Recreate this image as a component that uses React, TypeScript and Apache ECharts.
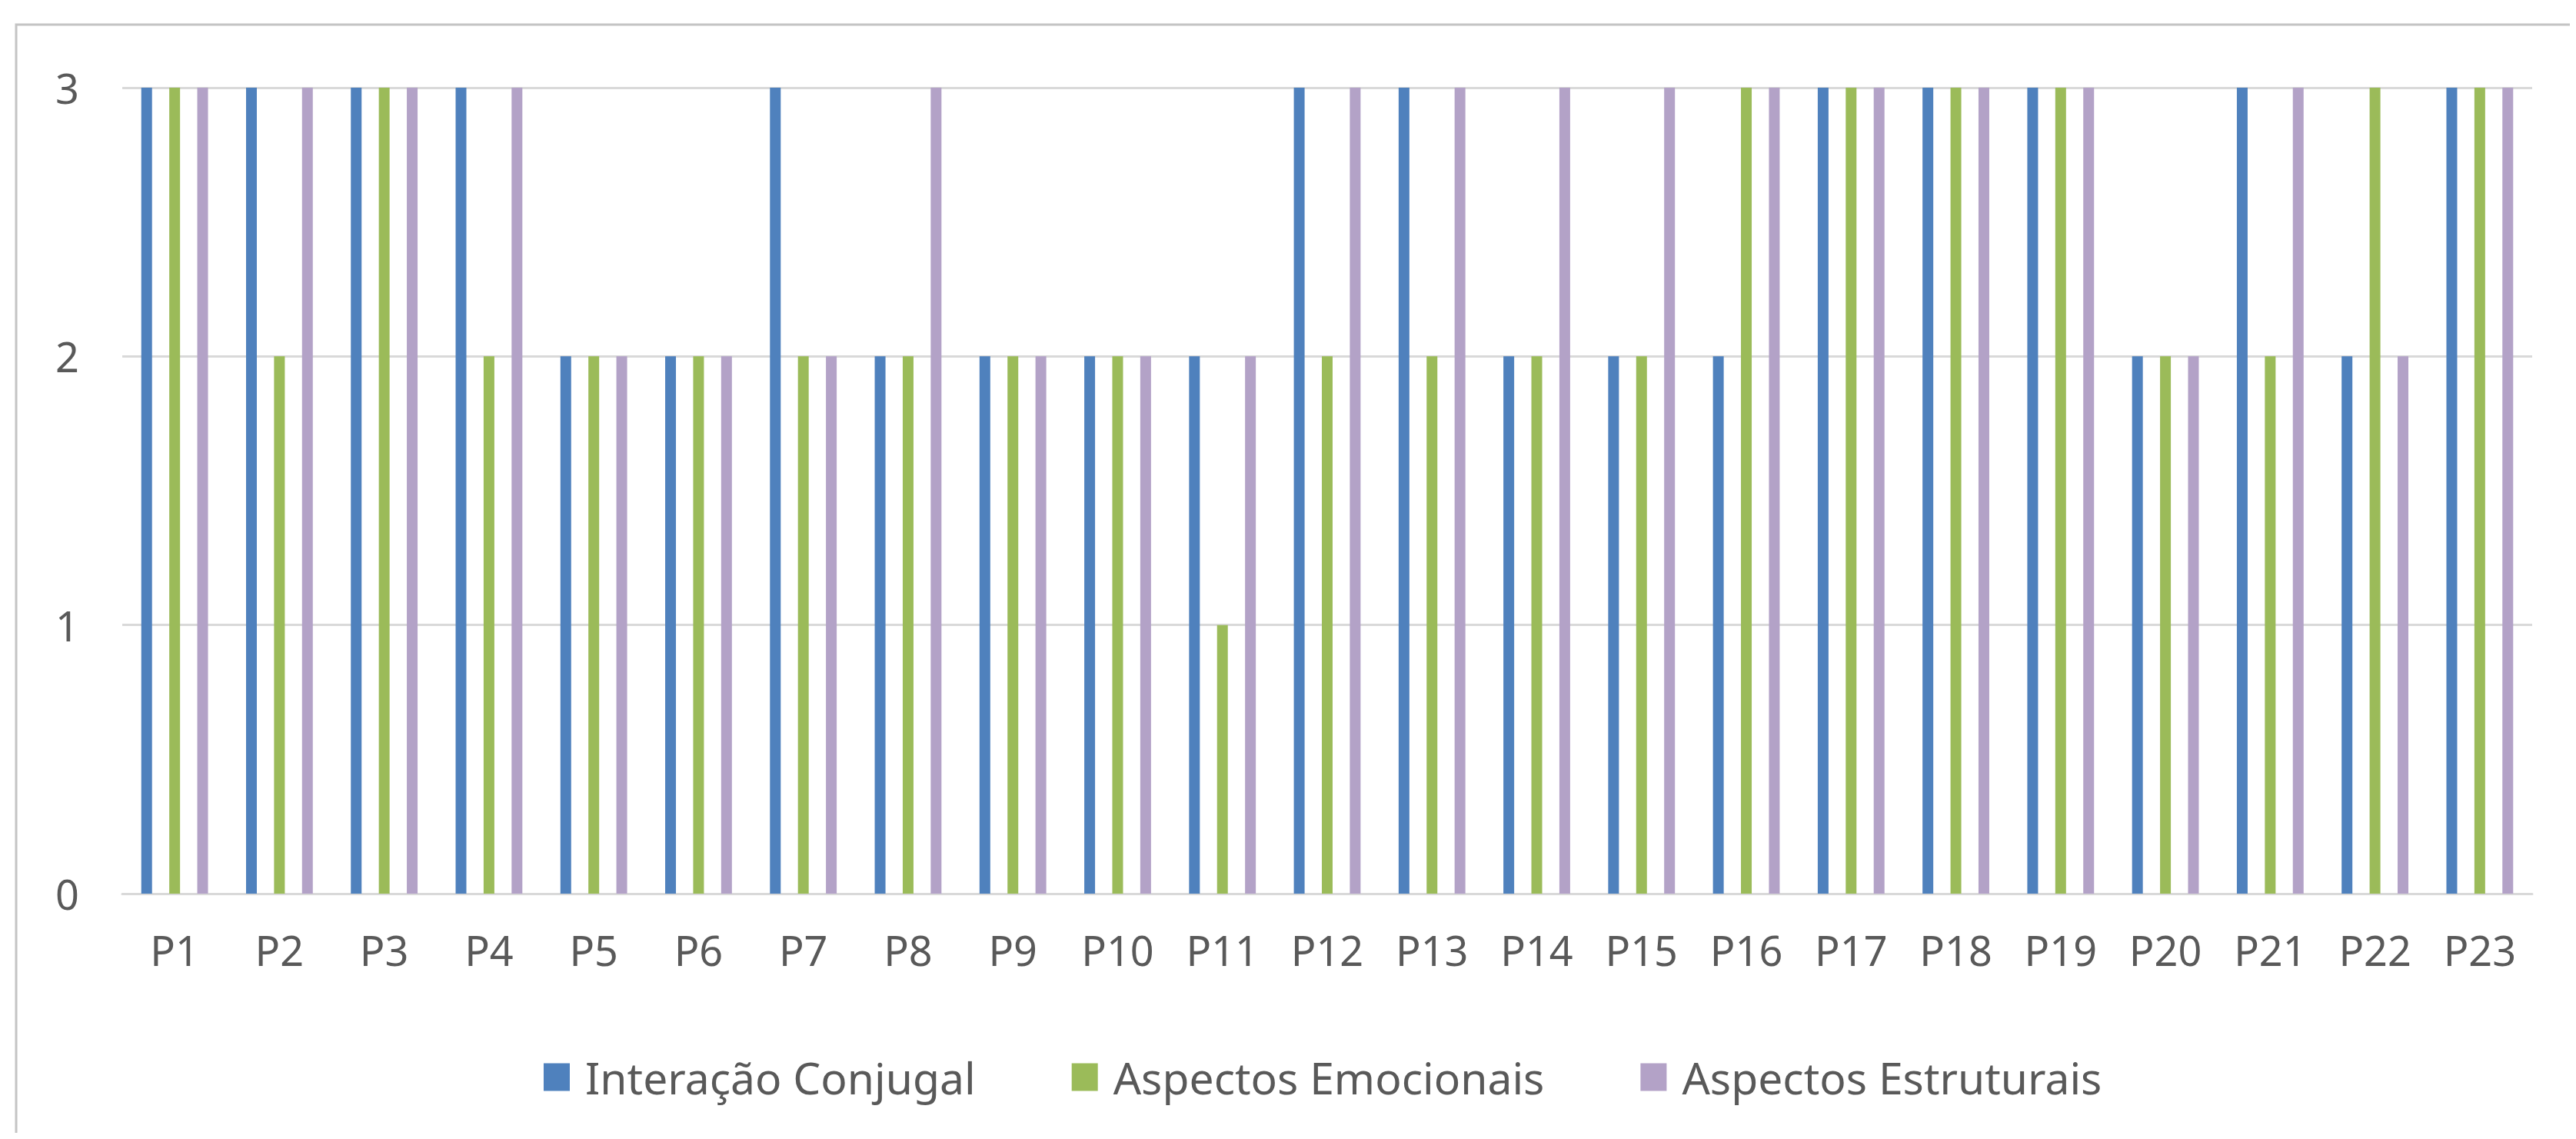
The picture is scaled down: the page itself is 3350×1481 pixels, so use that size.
import React, { useEffect, useRef } from "react";
import * as echarts from "echarts";

const categories = ["P1","P2","P3","P4","P5","P6","P7","P8","P9","P10","P11","P12","P13","P14","P15","P16","P17","P18","P19","P20","P21","P22","P23"];
const interacaoConjugal = [3,3,3,3,2,2,3,2,2,2,2,3,3,2,2,2,3,3,3,2,3,2,3];
const aspectosEmocionais = [3,2,3,2,2,2,2,2,2,2,1,2,2,2,2,3,3,3,3,2,2,3,3];
const aspectosEstruturais = [3,3,3,3,2,2,2,3,2,2,2,3,3,3,3,3,3,3,3,2,3,2,3];
const seriesNames = ["Interação Conjugal", "Aspectos Emocionais", "Aspectos Estruturais"];
const colors = ["#4F81BD", "#9BBB59", "#B3A2C7"];

const FONT = "'Noto Sans', Lato, sans-serif";
const TEXT = "#595959";

export default function App() {
  const ref = useRef<HTMLDivElement>(null);
  useEffect(() => {
    if (!ref.current) return;
    const chart = echarts.init(ref.current, undefined, { renderer: "svg" });
    const mk = (name: string, data: number[], color: string) => ({
      name,
      type: "bar",
      data,
      barWidth: 14,
      barGap: "160%",
      itemStyle: { color },
    });
    chart.setOption({
      animation: false,
      backgroundColor: "#ffffff",
      color: colors,
      textStyle: { fontFamily: FONT },
      graphic: [
        {
          type: "rect",
          shape: { x: 13, y: 24, width: 3400, height: 1500 },
          style: { fill: "none", stroke: "#C4C4C4", lineWidth: 3 },
          silent: true,
          z: -10,
        },
      ],
      grid: { left: 151, right: 49, top: 106, bottom: 311, containLabel: false },
      legend: {
        left: 694,
        top: 1359,
        itemWidth: 34,
        itemHeight: 36,
        itemGap: 125,
        icon: "rect",
        textStyle: { fontFamily: FONT, fontSize: 57, color: TEXT, padding: [0, 0, 0, 15] },
        data: seriesNames,
      },
      xAxis: {
        type: "category",
        data: categories,
        axisLine: { lineStyle: { color: "#D9D9D9", width: 3 } },
        axisTick: { show: false },
        axisLabel: { fontFamily: FONT, fontSize: 54, color: TEXT, margin: 46, interval: 0 },
      },
      yAxis: {
        type: "value",
        min: 0,
        max: 3,
        interval: 1,
        axisLine: { show: false },
        axisTick: { show: false },
        splitLine: { lineStyle: { color: "#D9D9D9", width: 3 } },
        axisLabel: { fontFamily: FONT, fontSize: 54, color: TEXT, margin: 56 },
      },
      series: [
        mk(seriesNames[0], interacaoConjugal, colors[0]),
        mk(seriesNames[1], aspectosEmocionais, colors[1]),
        mk(seriesNames[2], aspectosEstruturais, colors[2]),
      ],
    });
    return () => chart.dispose();
  }, []);
  return <div ref={ref} style={{ width: 3334, height: 1465 }} />;
}
